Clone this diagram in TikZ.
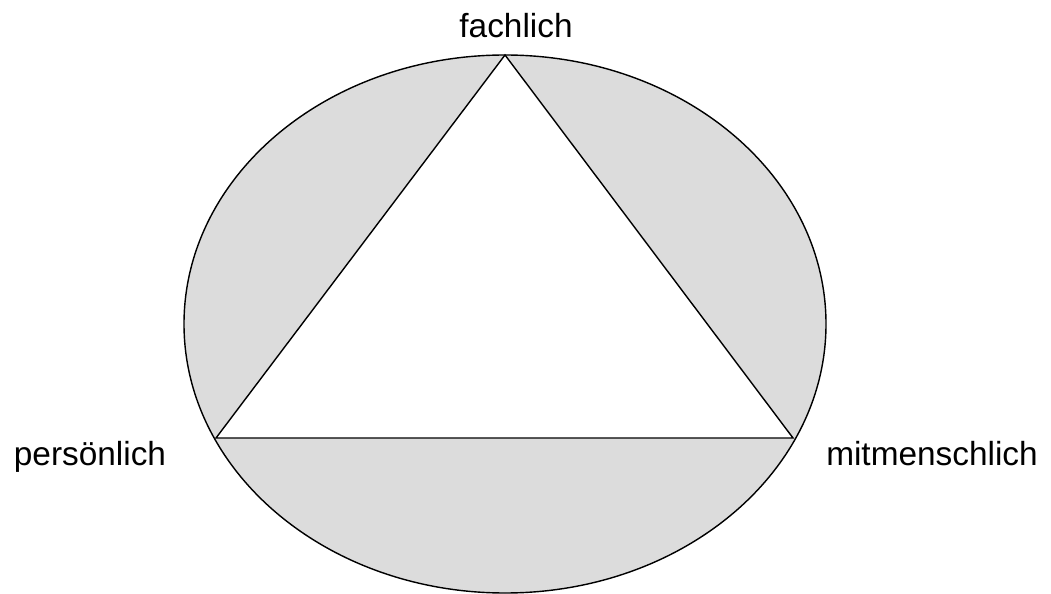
\documentclass[tikz,border=0pt]{standalone}
\usepackage{fontspec}
\setmainfont{Liberation Sans}
\definecolor{ringgray}{RGB}{220,220,220}
\usetikzlibrary{positioning}

\begin{document}
\begin{tikzpicture}[x=0.02cm,y=-0.02cm,
  edge/.style={draw=black,line width=0.8pt},
  corner/.style={font=\fontsize{19}{23}\selectfont,anchor=base}]
\useasboundingbox (0,0) rectangle (1051,594);
% outer ring and triangle
\filldraw[fill=ringgray,edge] (505,324) ellipse (321 and 269);
\coordinate (top) at (505,55);
\coordinate (left) at (216,438);
\coordinate (right) at (793,438);
\filldraw[fill=white,edge,line join=miter] (top) -- (left) -- (right) -- cycle;
% labels
\node[corner] (fach) at (516,38) {fachlich};
\node[corner] (pers) at (90,465) {persönlich};
\node[corner] (mit) at (932,465) {mitmenschlich};
\end{tikzpicture}
\end{document}
